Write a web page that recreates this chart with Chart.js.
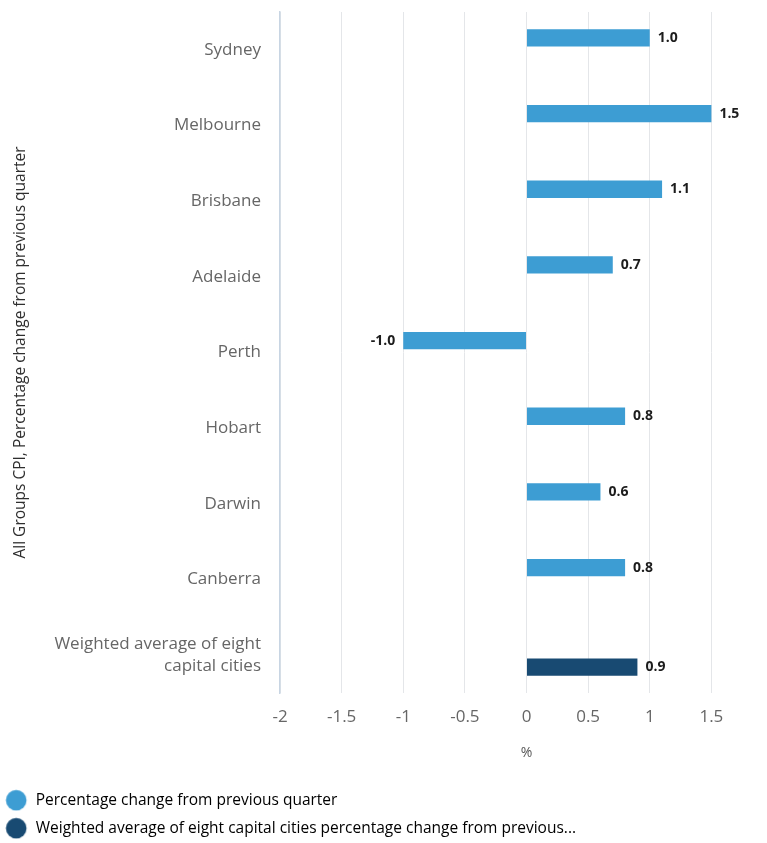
<!DOCTYPE html>
<html>
<head>
<meta charset="utf-8">
<title>CPI by capital city</title>
<script src="https://cdn.jsdelivr.net/npm/chart.js@4.4.1/dist/chart.umd.min.js"></script>
<style>
  html, body { margin: 0; padding: 0; background: #ffffff; overflow: hidden; }
  #wrap { width: 778px; height: 851px; }
</style>
</head>
<body>
<div id="wrap"><canvas id="c" width="778" height="851"></canvas></div>
<script>
// Categories (capital cities plus the national weighted average)
const cities = [
  'Sydney', 'Melbourne', 'Brisbane', 'Adelaide', 'Perth',
  'Hobart', 'Darwin', 'Canberra',
  ['Weighted average of eight', 'capital cities']
];

// Quarterly percentage change per city
const cityChange = [1.0, 1.5, 1.1, 0.7, -1.0, 0.8, 0.6, 0.8, null];

// Weighted average of the eight capitals
const averageChange = [null, null, null, null, null, null, null, null, 0.9];

// Value-axis ticks
const xTicks = [-2, -1.5, -1, -0.5, 0, 0.5, 1, 1.5, 2];

// Series names and the text shown for them in the legend
const seriesNames = [
  'Percentage change from previous quarter',
  'Weighted average of eight capital cities percentage change from previous quarter'
];
const legendText = [
  'Percentage change from previous quarter',
  'Weighted average of eight capital cities percentage change from previous...'
];

const seriesColors = ['#3d9dd3', '#184a72'];

const FONT = "'Open Sans', 'Noto Sans', sans-serif";

// Legend marker: a filled disc, shifted a little left inside its sprite
function legendDot(color) {
  const c = document.createElement('canvas');
  c.width = 30;
  c.height = 22;
  const g = c.getContext('2d');
  g.fillStyle = color;
  g.beginPath();
  g.arc(11, 11, 10.3, 0, Math.PI * 2);
  g.fill();
  return c;
}

// Writes each bar's value just past its end
const valueLabels = {
  id: 'valueLabels',
  afterDatasetsDraw(chart) {
    const ctx = chart.ctx;
    ctx.save();
    ctx.font = 'bold 14px ' + FONT;
    ctx.fillStyle = '#1c1c1c';
    ctx.textBaseline = 'middle';
    chart.data.datasets.forEach((ds, di) => {
      const meta = chart.getDatasetMeta(di);
      meta.data.forEach((bar, i) => {
        const v = ds.data[i];
        if (v === null || v === undefined) return;
        const txt = v.toFixed(1);
        if (v >= 0) {
          ctx.textAlign = 'left';
          ctx.fillText(txt, bar.x + 8, bar.y);
        } else {
          ctx.textAlign = 'right';
          ctx.fillText(txt, bar.x - 8, bar.y);
        }
      });
    });
    ctx.restore();
  }
};

new Chart(document.getElementById('c'), {
  type: 'bar',
  data: {
    labels: cities,
    datasets: [
      {
        label: seriesNames[0],
        data: cityChange,
        backgroundColor: seriesColors[0],
        borderWidth: 0,
        categoryPercentage: 0.63,
        barPercentage: 0.73
      },
      {
        label: seriesNames[1],
        data: averageChange,
        backgroundColor: seriesColors[1],
        borderWidth: 0,
        categoryPercentage: 0.63,
        barPercentage: 0.73
      }
    ]
  },
  options: {
    indexAxis: 'y',
    responsive: false,
    animation: false,
    layout: { padding: { top: 12, right: 5, bottom: 5, left: 0 } },
    plugins: {
      tooltip: { enabled: false },
      legend: {
        position: 'bottom',
        align: 'start',
        labels: {
          usePointStyle: true,
          padding: 12.5,
          color: '#333333',
          font: { family: FONT, size: 15.5 },
          generateLabels(chart) {
            return chart.data.datasets.map((ds, i) => ({
              text: legendText[i],
              fillStyle: ds.backgroundColor,
              strokeStyle: ds.backgroundColor,
              lineWidth: 0,
              pointStyle: legendDot(ds.backgroundColor),
              hidden: false,
              datasetIndex: i
            }));
          }
        }
      }
    },
    scales: {
      x: {
        min: -2,
        max: 2,
        afterBuildTicks(scale) {
          scale.ticks = xTicks.map(v => ({ value: v }));
        },
        afterFit(scale) {
          scale.height = 87;
          scale.paddingLeft = 0;
          scale.paddingRight = 0;
        },
        grid: { color: '#e4e6e9', lineWidth: 1, drawTicks: false },
        border: { display: false },
        ticks: {
          padding: 14,
          color: '#666666',
          font: { family: FONT, size: 17 },
          callback: v => String(v)
        },
        title: {
          display: true,
          text: '%',
          color: '#555555',
          font: { family: FONT, size: 14 },
          padding: { top: 0, bottom: 19 }
        }
      },
      y: {
        afterFit(scale) {
          scale.width = 280;
          scale.paddingTop = 0;
          scale.paddingBottom = 0;
        },
        grid: { display: false, drawTicks: false },
        border: { display: true, color: '#c8d5e3', width: 1.5 },
        ticks: {
          padding: 19,
          color: '#666666',
          font: { family: FONT, size: 17, lineHeight: 1.3 }
        },
        title: {
          display: true,
          text: 'All Groups CPI, Percentage change from previous quarter',
          color: '#2e2e2e',
          font: { family: FONT, size: 15.5 },
          padding: { top: 11, bottom: 0 }
        }
      }
    }
  },
  plugins: [valueLabels]
});
</script>
</body>
</html>
